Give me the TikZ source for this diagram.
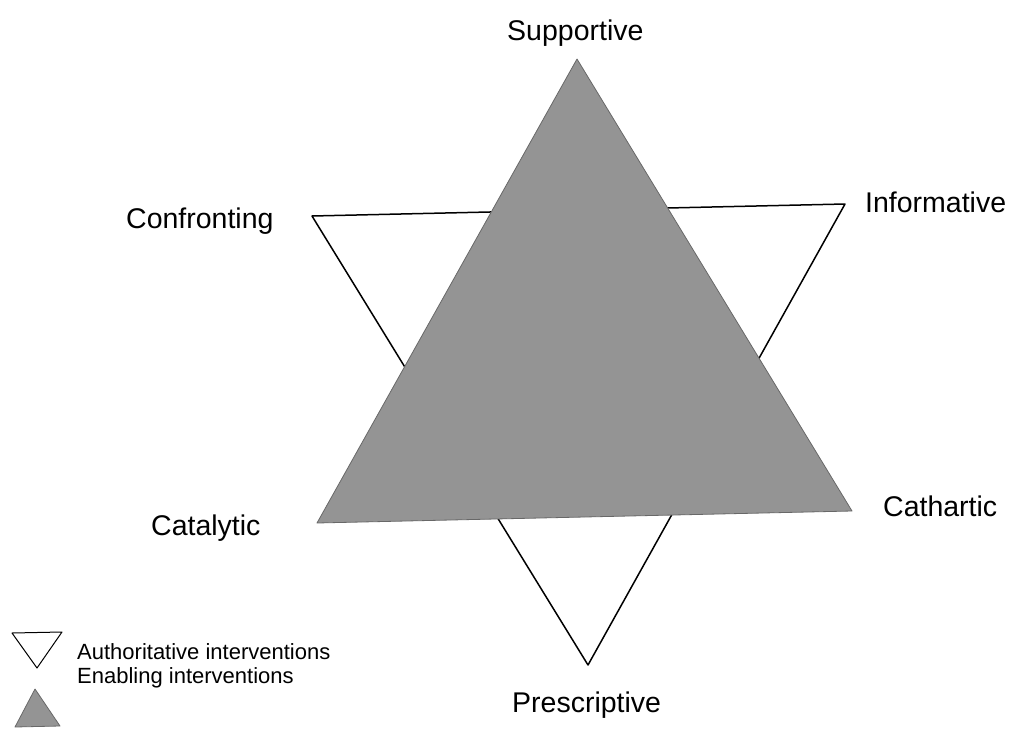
\documentclass[tikz,border=0pt]{standalone}
\usepackage{fontspec}
\setmainfont{Liberation Sans}
\definecolor{shade}{RGB}{148,148,148}
\begin{document}
\begin{tikzpicture}[x=1pt,y=-1pt,
  lbl/.style={anchor=base west, inner sep=0pt, font=\fontsize{28.5}{30}\selectfont},
  key/.style={anchor=base west, inner sep=0pt, font=\fontsize{22}{24}\selectfont},
  enabling/.style={fill=shade, draw=shade!70!black, line width=0.8pt, line join=round},
  authoritative/.style={draw=black, line width=1.5pt, line join=round}]
\useasboundingbox (0,0) rectangle (1012,731);

% corners of the authoritative (downward) triangle
\coordinate (conf) at (312,216);
\coordinate (info) at (845,204);
\coordinate (pres) at (588,665);
% corners of the enabling (upward) triangle
\coordinate (supp) at (577,59);
\coordinate (cata) at (317,523);
\coordinate (cath) at (852,511);

\draw[authoritative] (conf) -- (info) -- (pres) -- cycle;
\filldraw[enabling] (supp) -- (cath) -- (cata) -- cycle;

% category labels
\node[lbl] (lsupp) at (507,40) {Supportive};
\node[lbl] (lconf) at (126,228) {Confronting};
\node[lbl] (linfo) at (865,212) {Informative};
\node[lbl] (lcata) at (151,535) {Catalytic};
\node[lbl] (lcath) at (883,516) {Cathartic};
\node[lbl] (lpres) at (512,712) {Prescriptive};

% key
\coordinate (ka) at (12,633);
\coordinate (kb) at (62,632);
\coordinate (kc) at (37,668);
\draw[authoritative, line width=1pt] (ka) -- (kb) -- (kc) -- cycle;
\coordinate (kd) at (35,689);
\coordinate (ke) at (60,726);
\coordinate (kf) at (15,727);
\filldraw[enabling] (kd) -- (ke) -- (kf) -- cycle;
\node[key] (kauth) at (77,659) {Authoritative interventions};
\node[key] (kenab) at (77,683) {Enabling interventions};
\end{tikzpicture}
\end{document}
